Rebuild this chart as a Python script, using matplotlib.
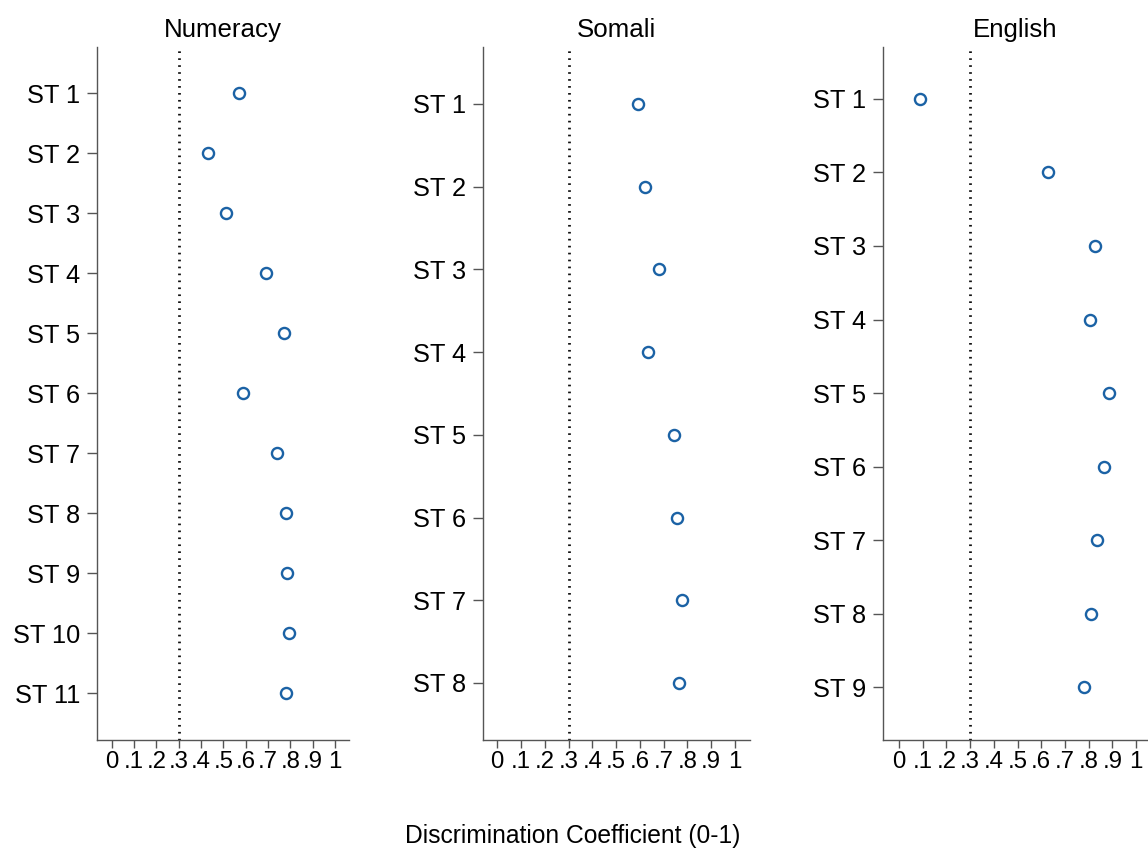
import matplotlib
matplotlib.use("Agg")
import matplotlib.pyplot as plt

# Discrimination coefficients per subtest, by subject
numeracy_items = ["ST 1", "ST 2", "ST 3", "ST 4", "ST 5", "ST 6",
                  "ST 7", "ST 8", "ST 9", "ST 10", "ST 11"]
numeracy_values = [0.57, 0.43, 0.51, 0.69, 0.77, 0.59, 0.74, 0.78, 0.785, 0.795, 0.78]

somali_items = ["ST 1", "ST 2", "ST 3", "ST 4", "ST 5", "ST 6", "ST 7", "ST 8"]
somali_values = [0.59, 0.62, 0.68, 0.635, 0.745, 0.755, 0.775, 0.765]

english_items = ["ST 1", "ST 2", "ST 3", "ST 4", "ST 5", "ST 6", "ST 7", "ST 8", "ST 9"]
english_values = [0.09, 0.63, 0.825, 0.805, 0.885, 0.865, 0.835, 0.81, 0.78]

panel_titles = ["Numeracy", "Somali", "English"]
x_ticks = [0, 0.1, 0.2, 0.3, 0.4, 0.5, 0.6, 0.7, 0.8, 0.9, 1.0]
x_tick_labels = ["0", ".1", ".2", ".3", ".4", ".5", ".6", ".7", ".8", ".9", "1"]
threshold = 0.3

plt.rcParams["font.family"] = ["Liberation Sans", "DejaVu Sans"]

W, H = 1148, 848
fig = plt.figure(figsize=(W / 100, H / 100), dpi=100)

MARKER_COLOR = "#1b62a5"
AXIS_COLOR = "#555555"

# panel geometry in pixels: left, right, top, bottom, plus axis ranges
panels = [
    dict(items=numeracy_items, values=numeracy_values, title=panel_titles[0],
         px=(97, 349, 47, 740), xlim=(-0.066, 1.063), ylim=(11.78, 0.233)),
    dict(items=somali_items, values=somali_values, title=panel_titles[1],
         px=(483, 750, 47, 740), xlim=(-0.060, 1.063), ylim=(8.69, 0.311)),
    dict(items=english_items, values=english_values, title=panel_titles[2],
         px=(883, 1148, 47, 740), xlim=(-0.067, 1.050), ylim=(9.72, 0.293)),
]

for p in panels:
    l, r, t, b = p["px"]
    ax = fig.add_axes([l / W, 1 - b / H, (r - l) / W, (b - t) / H])
    pos = list(range(1, len(p["items"]) + 1))

    ax.axvline(threshold, color="#111111", linewidth=2.0,
               linestyle=(0, (0.6, 1.9)), dash_capstyle="butt", zorder=1)
    ax.plot(p["values"], pos, linestyle="none", marker="o", markersize=8,
            markerfacecolor="white", markeredgecolor=MARKER_COLOR,
            markeredgewidth=1.7, zorder=3, clip_on=False)

    ax.set_xlim(*p["xlim"])
    ax.set_ylim(*p["ylim"])
    ax.set_yticks(pos)
    ax.set_yticklabels(p["items"])
    ax.set_xticks(x_ticks)
    ax.set_xticklabels(x_tick_labels)

    for side in ("top", "right"):
        ax.spines[side].set_visible(False)
    for side in ("left", "bottom"):
        ax.spines[side].set_color(AXIS_COLOR)
        ax.spines[side].set_linewidth(1.0)

    ax.tick_params(axis="y", length=7, width=1.0, color=AXIS_COLOR, pad=5,
                   labelsize=18.3, labelcolor="black")
    ax.tick_params(axis="x", length=6, width=1.0, color=AXIS_COLOR, pad=2,
                   labelsize=17.3, labelcolor="black")

    fig.text((l + r) / 2 / W, 1 - 37 / H, p["title"], ha="center",
             va="baseline", fontsize=18.6)

fig.text(573 / W, 1 - 843 / H, "Discrimination Coefficient (0-1)",
         ha="center", va="baseline", fontsize=17.7)

fig.savefig("out.png", dpi=100, facecolor="white")
